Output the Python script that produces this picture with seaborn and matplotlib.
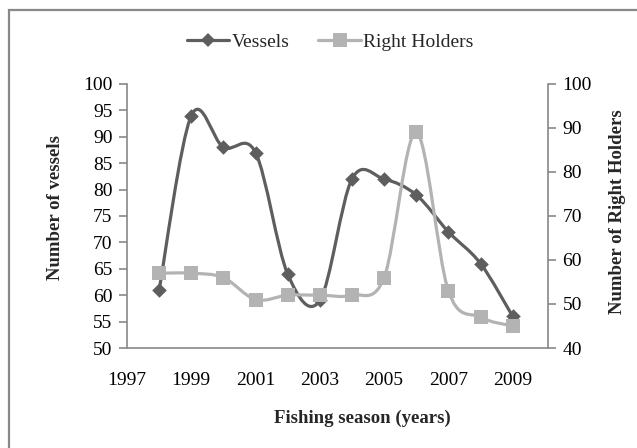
import numpy as np
import pandas as pd
import matplotlib
matplotlib.use("Agg")
import matplotlib.pyplot as plt
from matplotlib.path import Path
from matplotlib.patches import PathPatch, Rectangle
from matplotlib.lines import Line2D
import seaborn as sns

# ==============================
# Data
# ==============================
years = [1998, 1999, 2000, 2001, 2002, 2003, 2004, 2005, 2006, 2007, 2008, 2009]
vessels = [61, 94, 88, 87, 64, 59, 82, 82, 79, 72, 66, 56]
right_holders = [57, 57, 56, 51, 52, 52, 52, 56, 89, 53, 47, 45]

x_ticks = [1997, 1999, 2001, 2003, 2005, 2007, 2009]
left_ticks = list(range(50, 101, 5))
right_ticks = list(range(40, 101, 10))

df = pd.DataFrame({"year": years, "vessels": vessels, "holders": right_holders})

DARK = "#5e5e5e"
LIGHT = "#b3b3b3"
AXIS = "#888888"

sns.set_style("white")
plt.rcParams["font.family"] = ["Liberation Serif", "DejaVu Serif"]


def smooth_path(x, y):
    # Excel-like smoothed line: cubic Bezier through the points (Catmull-Rom)
    x = np.asarray(x, float)
    y = np.asarray(y, float)
    n = len(x)
    verts = [(x[0], y[0])]
    codes = [Path.MOVETO]
    for i in range(n - 1):
        a = max(i - 1, 0)
        b = min(i + 2, n - 1)
        c1 = (x[i] + (x[i + 1] - x[a]) / 6, y[i] + (y[i + 1] - y[a]) / 6)
        c2 = (x[i + 1] - (x[b] - x[i]) / 6, y[i + 1] - (y[b] - y[i]) / 6)
        verts += [c1, c2, (x[i + 1], y[i + 1])]
        codes += [Path.CURVE4] * 3
    return Path(verts, codes)


fig = plt.figure(figsize=(6.37, 4.48), dpi=100)
ax = fig.add_axes([127 / 637, 1 - 348 / 448, 421 / 637, 264 / 448])
ax2 = ax.twinx()

# Vessels (left axis)
ax.add_patch(PathPatch(smooth_path(df["year"], df["vessels"]), fill=False,
                       edgecolor=DARK, lw=2.3, capstyle="round", zorder=2))
sns.scatterplot(data=df, x="year", y="vessels", ax=ax, marker="D", s=55,
                color=DARK, linewidth=0, zorder=3)

# Right holders (right axis)
ax2.add_patch(PathPatch(smooth_path(df["year"], df["holders"]), fill=False,
                        edgecolor=LIGHT, lw=2.3, capstyle="round", zorder=2))
sns.scatterplot(data=df, x="year", y="holders", ax=ax2, marker="s", s=110,
                color=LIGHT, linewidth=0, zorder=3)

ax.set_xlim(1997, 2010.1)
ax.set_ylim(50, 100)
ax2.set_ylim(40, 100)
ax.set_xticks(x_ticks)
ax.set_yticks(left_ticks)
ax2.set_yticks(right_ticks)
ax.set_xlabel("")
ax.set_ylabel("")
ax2.set_ylabel("")

for a in (ax, ax2):
    a.spines["top"].set_visible(False)
    for s in a.spines.values():
        s.set_color(AXIS)
        s.set_linewidth(1.2)
    a.tick_params(direction="out", length=5.5, width=1.2, color=AXIS,
                  labelsize=14, labelcolor="black", pad=5)
ax.spines["right"].set_visible(False)
ax2.spines["left"].set_visible(False)
ax2.spines["bottom"].set_visible(False)
ax.tick_params(axis="x", pad=12)

# Axis titles
fig.text(55 / 637, 1 - 207 / 448, "Number of vessels", rotation=90,
         ha="center", va="center", fontsize=13.5, fontweight="bold")
fig.text(617 / 637, 1 - 212 / 448, "Number of Right Holders", rotation=90,
         ha="center", va="center", fontsize=13.5, fontweight="bold")
fig.text(362 / 637, 1 - 418 / 448, "Fishing season (years)",
         ha="center", va="center", fontsize=13.5, fontweight="bold")

# Legend
handles = [
    Line2D([], [], color=DARK, lw=2.3, marker="D", markersize=7.5, markeredgewidth=0),
    Line2D([], [], color=LIGHT, lw=2.3, marker="s", markersize=10.5, markeredgewidth=0),
]
fig.legend(handles, ["Vessels", "Right Holders"], loc="center",
           bbox_to_anchor=(330 / 637, 1 - 42 / 448), ncol=2, frameon=False,
           fontsize=14, handlelength=2.2, handletextpad=0.1, columnspacing=1.5)

# Chart-area border (cropped at right and bottom in the original)
fig.patches.append(Rectangle((8.5 / 637, -0.2), 1.5, 1.2 - 10 / 448, fill=False,
                             edgecolor=AXIS, lw=1.6, transform=fig.transFigure))

fig.savefig("out.png", dpi=100)
